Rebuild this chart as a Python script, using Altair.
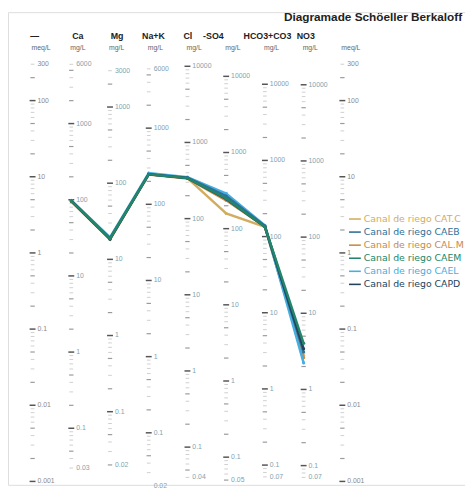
import math
import altair as alt
import pandas as pd

# ---------------- data ----------------
title_text = "Diagramade Schöeller Berkaloff"
header_labels = ["—", "Ca", "Mg", "Na+K", "Cl", "-SO4", "HCO3+CO3", "NO3"]
header_px = [35, 79, 119, 156, 191, 217, 272, 311]
units = ["meq/L", "mg/L", "mg/L", "mg/L", "mg/L", "mg/L", "mg/L", "mg/L", "meq/L"]
eq_weights = [1.0, 20.04, 12.15, 23.0, 35.45, 48.03, 61.02, 62.0, 1.0]

axis_labels = [
    [300, 100, 10, 1, 0.1, 0.01, 0.001],
    [6000, 1000, 100, 10, 1, 0.1, 0.03],
    [3000, 1000, 100, 10, 1, 0.1, 0.02],
    [6000, 1000, 100, 10, 1, 0.1, 0.02],
    [10000, 1000, 100, 10, 1, 0.1, 0.04],
    [10000, 1000, 100, 10, 1, 0.1, 0.05],
    [10000, 1000, 100, 10, 1, 0.1, 0.07],
    [10000, 1000, 100, 10, 1, 0.1, 0.07],
    [300, 100, 10, 1, 0.1, 0.01, 0.001],
]

ions = ["Ca", "Mg", "Na+K", "Cl", "SO4", "HCO3+CO3", "NO3"]
series = ["Canal de riego CAT.C", "Canal de riego CAEB", "Canal de riego CAL.M",
          "Canal de riego CAEM", "Canal de riego CAEL", "Canal de riego CAPD"]
colors = ["#d2ad5f", "#2f6f9a", "#c98a48", "#23866a", "#47aee0", "#22435f"]
# meq/L values: Ca, Mg, Na+K, Cl, SO4, HCO3+CO3, NO3
v_cat = [4.8, 1.55, 10.9, 9.6, 3.3, 2.2, 0.045]
v_caeb = [4.85, 1.55, 10.8, 9.7, 5.6, 2.25, 0.050]
v_calm = [4.75, 1.50, 10.7, 9.5, 4.9, 2.2, 0.042]
v_caem = [4.8, 1.55, 10.8, 9.6, 5.2, 2.2, 0.065]
v_cael = [4.9, 1.60, 11.2, 9.9, 6.0, 2.3, 0.036]
v_capd = [4.8, 1.52, 10.8, 9.6, 5.1, 2.2, 0.055]
series_values = [v_cat, v_caeb, v_calm, v_caem, v_cael, v_capd]
draw_order = [0, 2, 4, 1, 5, 3]

# ---------------- layout ----------------
W, H = 465, 481
X0, DX = 25.0, 39.4
Y0, DY = 245.0, 77.5
x_scale = alt.Scale(domain=[-X0 / DX, (W - X0) / DX], nice=False, zero=False)
y_scale = alt.Scale(type="log", domain=[10 ** ((Y0 - H) / DY), 10 ** (Y0 / DY)], nice=False)
FONT = "Liberation Sans"


def fmt(v):
    if v >= 1:
        return str(int(v))
    return ("%g" % v)


# tick marks
tick_rows = []
for ci, eq in enumerate(eq_weights):
    for d in range(-3, 6):
        for k in range(1, 10):
            mg = k * 10 ** d
            meq = mg / eq
            if 0.001 * 0.999 <= meq <= 300 * 1.001:
                tick_rows.append({"col": ci, "meq": meq, "major": k == 1, "mid": k in (2, 5)})
ticks = pd.DataFrame(tick_rows)

label_rows = []
for ci, (eq, labs) in enumerate(zip(eq_weights, axis_labels)):
    for mg in labs:
        label_rows.append({"col": ci, "meq": mg / eq, "txt": fmt(mg),
                           "kind": "meq" if eq == 1.0 else "mg"})
labels = pd.DataFrame(label_rows)

line_rows = []
for si, vals in enumerate(series_values):
    for ii, v in enumerate(vals):
        line_rows.append({"series": series[si], "col": ii + 1, "meq": v})
lines = pd.DataFrame(line_rows)

Xq = alt.X("col:Q", scale=x_scale, axis=None)
Yq = alt.Y("meq:Q", scale=y_scale, axis=None)

minor = alt.Chart(ticks[~ticks.major & ~ticks.mid]).mark_point(
    shape="M-1,0L1,0", size=14, strokeWidth=1.0, color="#cfcfcf", opacity=1
).encode(x=Xq, y=Yq)
mid = alt.Chart(ticks[ticks.mid]).mark_point(
    shape="M-1,0L1,0", size=20, strokeWidth=1.2, color="#9a9a9a", opacity=1
).encode(x=Xq, y=Yq)
major = alt.Chart(ticks[ticks.major]).mark_point(
    shape="M-1,0L1,0", size=36, strokeWidth=1.5, color="#555555", opacity=1
).encode(x=Xq, y=Yq)

lab_meq = alt.Chart(labels[labels.kind == "meq"]).mark_text(
    align="left", baseline="middle", dx=5, fontSize=7, font=FONT, color="#8a8a8a"
).encode(x=Xq, y=Yq, text="txt:N")
lab_mg = alt.Chart(labels[labels.kind == "mg"]).mark_text(
    align="left", baseline="middle", dx=5, fontSize=7, font=FONT, color="#7fa3b0"
).encode(x=Xq, y=Yq, text="txt:N")

layers = [minor, mid, major, lab_meq, lab_mg]

for si in draw_order:
    d = lines[lines.series == series[si]]
    layers.append(alt.Chart(d).mark_line(
        color=colors[si], strokeWidth=2.5
    ).encode(x=Xq, y=Yq))
    layers.append(alt.Chart(d).mark_point(
        color=colors[si], filled=True, size=10, opacity=1
    ).encode(x=Xq, y=Yq))

# title
layers.append(alt.Chart(pd.DataFrame({"t": [title_text]})).mark_text(
    align="right", baseline="top", fontSize=12, fontWeight="bold", font=FONT, color="#222222"
).encode(x=alt.value(W - 3), y=alt.value(0), text="t:N"))

# headers
for h, px in zip(header_labels, header_px):
    layers.append(alt.Chart(pd.DataFrame({"t": [h]})).mark_text(
        align="center", baseline="middle", fontSize=9, fontWeight="bold", font=FONT, color="#222222"
    ).encode(x=alt.value(px - 8), y=alt.value(24), text="t:N"))

# units
units_df = pd.DataFrame({"col": list(range(len(units))), "u": units})
layers.append(alt.Chart(units_df).mark_text(
    align="left", baseline="middle", fontSize=7, font=FONT, color="#666666", dx=-1
).encode(x=Xq, y=alt.value(37), text="u:N"))

# legend
for k, si in enumerate(range(len(series))):
    yy = 210.5 + 13.3 * k
    one = pd.DataFrame({"name": [series[si]]})
    layers.append(alt.Chart(one).mark_rule(color=colors[si], strokeWidth=1.6).encode(
        x=alt.value(347), x2=alt.value(359), y=alt.value(yy)))
    layers.append(alt.Chart(one).mark_text(
        align="left", baseline="middle", fontSize=9.5, font="DejaVu Sans", color=colors[si]
    ).encode(x=alt.value(362), y=alt.value(yy), text="name:N"))

chart = alt.layer(*layers).properties(
    width=W, height=H, padding=0,
    autosize=alt.AutoSizeParams(type="none"),
).configure_view(stroke=None).configure(background="white")

chart.save("out.html", embed_options={"renderer": "svg", "actions": False})
